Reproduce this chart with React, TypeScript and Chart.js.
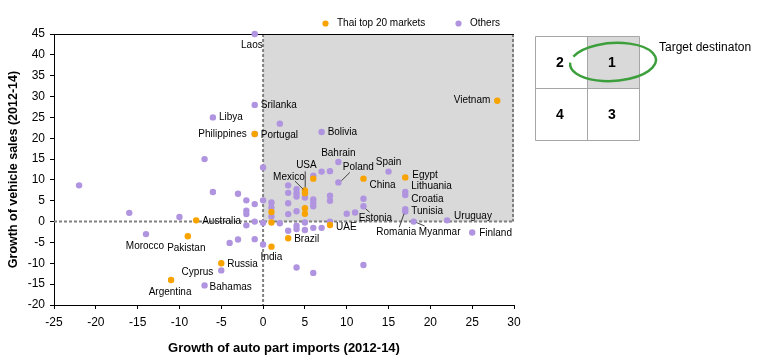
import React, { useEffect, useRef } from 'react';
import { Chart, registerables } from 'chart.js';

Chart.register(...registerables);

const FONT = "'Liberation Sans', Arial, sans-serif";
const ORANGE = '#f8a300';
const PURPLE = '#b094e0';

// Thai top 20 markets
const thaiNames = ['Vietnam', 'Philippines', 'Egypt', 'China', 'USA', 'Mexico', '', '', '', '', '', 'UAE', 'Brazil', 'India', 'Australia', 'Pakistan', 'Russia', 'Argentina'];
const thaiX = [28, -1, 17, 12, 5, 5, 6, 5, 5, 1, 1, 8, 3, 1, -8, -9, -5, -11];
const thaiY = [29, 21, 10.6, 10.3, 7.5, 6.8, 10.3, 3.2, 1.9, 2.3, -0.2, -0.8, -4, -6, 0.3, -3.5, -10, -14];

// Others
const otherNames = [
  'Laos', 'Srilanka', 'Libya', 'Portugal', '', 'Bolivia', '', '', 'Bahrain', '', '', 'Spain', '', 'Poland',
  '', '', '', '', '', '', '', '', '', '', '', '', '', '', '', '', '', '', '', '', '', '', '', '', '', '',
  '', '', '', 'Estonia', 'Lithuania', 'Croatia', 'Tunisia', 'Romania', 'Myanmar', 'Uruguay', 'Finland',
  '', '', '', '', '', 'Morocco', '', '', '', '', '', '', '', '', '', '', '', '', '', '', '', 'Cyprus', 'Bahamas',
];
const otherX = [
  -1, -1, -6, -1, 2, 7, -7, 0, 9, 7, 8, 15, 6, 9,
  3, 3, 3, 3, 3, 4, 4, 4, 4, 4, 4, 5, 5, 5, 6, 6, 6, 6, 7, 8, 8, 8, 1, 1, 1, 2,
  10, 11, 12, 12, 17, 17, 17, 17, 18, 22, 25,
  4, 6, 12, -22, -16, -14, -10, -6, -3, -2, -2, -2, -1, 0, -2, -1, 0, -4, -3, -1, 0, -5, -7,
];
const otherY = [
  45, 28, 25, 21, 23.5, 21.5, 15, 13, 14.3, 12, 12.1, 12, 11, 9.4,
  8.7, 6.9, 4.4, 1.8, -2.2, 7.8, 6.8, 6, 2.5, -1, -1.8, 5.8, -0.2, -2, 5.3, 4.5, 3.7, -1.5, -1.5, 6.2, 5, 0, 4.6, 3.4, 1.2, -0.4,
  1.9, 2.2, 5.5, 3.7, 7.1, 6.4, 3, 2.4, 0, 0.3, -2.6,
  -11, -12.3, -10.4, 8.7, 2.1, -3, 1.1, 7.1, 6.7, 5.1, 2.6, 1.8, 4.2, 5.1, -0.9, 0, -0.3, -5.1, -4.3, -4.2, -5.5, -11.7, -15.3,
];

const xTickMin = -25;
const xTickMax = 30;
const yTickMin = -20;
const yTickMax = 45;
const tickStep = 5;

const legendLabels = ['Thai top 20 markets', 'Others'];
const quadrantNumbers = ['2', '1', '4', '3'];
const targetText = 'Target destinaton';

// label placement relative to the point (pixels)
type LabelPlace = { dx: number; dy: number; align: CanvasTextAlign; line?: number[] };
const labelLayout: Record<string, LabelPlace> = {
  Laos: { dx: 8, dy: 11, align: 'right' },
  Srilanka: { dx: 6, dy: 0.5, align: 'left' },
  Libya: { dx: 6, dy: 0, align: 'left' },
  Philippines: { dx: -8, dy: 0, align: 'right' },
  Portugal: { dx: 6, dy: 1, align: 'left' },
  Vietnam: { dx: -7, dy: 0, align: 'right' },
  Bolivia: { dx: 6, dy: 0, align: 'left' },
  Bahrain: { dx: 0, dy: -9, align: 'center' },
  Spain: { dx: 0, dy: -9.5, align: 'center' },
  USA: { dx: 1.5, dy: -25.5, align: 'center', line: [0.3, -19, 0.3, -3] },
  Mexico: { dx: -16, dy: -16.2, align: 'center', line: [-10, -12.2, -1.6, -3.9] },
  Poland: { dx: 20, dy: -15, align: 'center', line: [11.5, -10, 3, -1.6] },
  Egypt: { dx: 7, dy: -2, align: 'left' },
  China: { dx: 6, dy: 7, align: 'left' },
  Lithuania: { dx: 6, dy: -5.5, align: 'left' },
  Croatia: { dx: 6, dy: 4, align: 'left' },
  Tunisia: { dx: 6, dy: 2, align: 'left' },
  Estonia: { dx: 12, dy: 12.4, align: 'center', line: [2.2, 2.6, 6.2, 6.1] },
  Uruguay: { dx: 7, dy: -4.5, align: 'left' },
  Romania: { dx: -9, dy: 21, align: 'center', line: [-6, 15.7, -1.3, 2.2] },
  Myanmar: { dx: 26, dy: 10.7, align: 'center', line: [3, 1, 11, 4.4] },
  Finland: { dx: 7, dy: 1, align: 'left' },
  UAE: { dx: 6, dy: 2, align: 'left' },
  Brazil: { dx: 6, dy: 1, align: 'left' },
  India: { dx: 0, dy: 11, align: 'center' },
  Australia: { dx: 6, dy: 1, align: 'left' },
  Morocco: { dx: -1, dy: 12, align: 'center' },
  Pakistan: { dx: -1.5, dy: 12, align: 'center' },
  Russia: { dx: 6, dy: 0.5, align: 'left' },
  Cyprus: { dx: -8, dy: 1.5, align: 'right' },
  Bahamas: { dx: 5, dy: 1.5, align: 'left' },
  Argentina: { dx: -1, dy: 12, align: 'center' },
};

const decorPlugin = {
  id: 'decor',
  beforeDatasetsDraw(chart: any) {
    const { ctx, chartArea, scales } = chart;
    const x = scales.x;
    const y = scales.y;
    const x0 = x.getPixelForValue(0);
    const x1 = x.getPixelForValue(xTickMax);
    const yT = y.getPixelForValue(yTickMax);
    const y0 = y.getPixelForValue(0);
    ctx.save();
    ctx.fillStyle = '#d9d9d9';
    ctx.fillRect(x0, yT, x1 - x0, y0 - yT);
    ctx.strokeStyle = '#808080';
    ctx.lineWidth = 2;
    ctx.setLineDash([3, 2]);
    ctx.beginPath();
    ctx.moveTo(x0, chartArea.top);
    ctx.lineTo(x0, chartArea.bottom);
    ctx.moveTo(chartArea.left, y0);
    ctx.lineTo(chartArea.right, y0);
    ctx.moveTo(x1 - 1, yT);
    ctx.lineTo(x1 - 1, y0);
    ctx.stroke();
    ctx.setLineDash([]);
    ctx.strokeStyle = '#000';
    ctx.lineWidth = 1;
    ctx.beginPath();
    ctx.moveTo(chartArea.left, Math.round(chartArea.top) + 0.5);
    ctx.lineTo(chartArea.right, Math.round(chartArea.top) + 0.5);
    ctx.stroke();
    ctx.restore();
  },
  afterDatasetsDraw(chart: any) {
    const { ctx } = chart;
    ctx.save();
    ctx.font = `10px ${FONT}`;
    ctx.fillStyle = '#000';
    ctx.textBaseline = 'middle';
    const nameSets = [thaiNames, otherNames];
    nameSets.forEach((names, di) => {
      const meta = chart.getDatasetMeta(di);
      names.forEach((name, i) => {
        if (!name) return;
        const place = labelLayout[name];
        if (!place) return;
        const el = meta.data[i];
        if (!el) return;
        const px = el.x;
        const py = el.y;
        ctx.textAlign = place.align;
        ctx.fillText(name, px + place.dx, py + place.dy);
        if (place.line) {
          ctx.strokeStyle = '#404040';
          ctx.lineWidth = 1;
          ctx.beginPath();
          ctx.moveTo(px + place.line[0], py + place.line[1]);
          ctx.lineTo(px + place.line[2], py + place.line[3]);
          ctx.stroke();
        }
      });
    });
    ctx.restore();
  },
  afterDraw(chart: any) {
    const { ctx } = chart;
    ctx.save();
    // legend
    ctx.font = `10px ${FONT}`;
    ctx.textBaseline = 'middle';
    ctx.textAlign = 'left';
    const legendItems = [
      { dot: 325.5, text: 337, color: ORANGE, label: legendLabels[0] },
      { dot: 458.5, text: 470, color: PURPLE, label: legendLabels[1] },
    ];
    legendItems.forEach((it) => {
      ctx.fillStyle = it.color;
      ctx.beginPath();
      ctx.arc(it.dot, 23.5, 3.1, 0, Math.PI * 2);
      ctx.fill();
      ctx.fillStyle = '#000';
      ctx.fillText(it.label, it.text, 23.5);
    });

    // quadrant diagram
    const L = 535, T = 36, S = 52;
    ctx.fillStyle = '#d9d9d9';
    ctx.fillRect(L + S, T, S, S);
    ctx.strokeStyle = '#a6a6a6';
    ctx.lineWidth = 1;
    ctx.beginPath();
    for (let k = 0; k <= 2; k++) {
      ctx.moveTo(L + 0.5, T + k * S + 0.5);
      ctx.lineTo(L + 2 * S + 0.5, T + k * S + 0.5);
      ctx.moveTo(L + k * S + 0.5, T + 0.5);
      ctx.lineTo(L + k * S + 0.5, T + 2 * S + 0.5);
    }
    ctx.stroke();
    ctx.fillStyle = '#000';
    ctx.font = `bold 14px ${FONT}`;
    ctx.textAlign = 'center';
    quadrantNumbers.forEach((n, k) => {
      const cx = L + (k % 2) * S + S / 2 - 1;
      const cy = T + Math.floor(k / 2) * S + S / 2 + 1.5;
      ctx.fillText(n, cx, cy);
    });
    // green ellipse
    ctx.strokeStyle = '#3c9f3c';
    ctx.lineWidth = 2.4;
    ctx.beginPath();
    ctx.ellipse(613, 62, 43, 19, -0.06, Math.PI + 0.42, Math.PI + 0.1 + Math.PI * 2);
    ctx.stroke();
    ctx.fillStyle = '#000';
    ctx.font = `12px ${FONT}`;
    ctx.textAlign = 'left';
    ctx.fillText(targetText, 659, 48);
    ctx.restore();
  },
};

export default function App() {
  const canvasRef = useRef<HTMLCanvasElement | null>(null);

  useEffect(() => {
    const canvas = canvasRef.current;
    if (!canvas) return;
    const toPoints = (xs: number[], ys: number[]) => xs.map((v, i) => ({ x: v, y: ys[i] }));
    const chart = new Chart(canvas, {
      type: 'scatter',
      data: {
        datasets: [
          {
            label: legendLabels[0],
            data: toPoints(thaiX, thaiY),
            backgroundColor: ORANGE,
            borderColor: ORANGE,
            borderWidth: 0,
            pointRadius: 3.2,
            clip: false as any,
          },
          {
            label: legendLabels[1],
            data: toPoints(otherX, otherY),
            backgroundColor: PURPLE,
            borderColor: PURPLE,
            borderWidth: 0,
            pointRadius: 3.2,
            clip: false as any,
          },
        ],
      },
      options: {
        responsive: false,
        animation: false,
        devicePixelRatio: 1,
        layout: { padding: { left: 0, top: 34, right: 249, bottom: 0 } },
        plugins: {
          legend: { display: false },
          tooltip: { enabled: false },
        },
        scales: {
          x: {
            type: 'linear',
            min: xTickMin,
            max: xTickMax,
            afterFit: (s: any) => {
              s.height = 55;
            },
            ticks: {
              stepSize: tickStep,
              color: '#000',
              padding: 6,
              font: { family: FONT, size: 12 },
            },
            grid: { drawOnChartArea: false, drawTicks: true, tickLength: 4, color: '#000' },
            border: { display: true, color: '#000', width: 1 },
            title: {
              display: true,
              text: 'Growth of auto part imports (2012-14)',
              color: '#000',
              font: { family: FONT, size: 13, weight: 'bold' },
              padding: { top: 0, bottom: 4 },
            },
          },
          y: {
            type: 'linear',
            min: yTickMin,
            max: yTickMax,
            afterFit: (s: any) => {
              s.width = 54;
            },
            ticks: {
              stepSize: tickStep,
              color: '#000',
              padding: 5,
              font: { family: FONT, size: 12 },
            },
            grid: { drawOnChartArea: false, drawTicks: true, tickLength: 4, color: '#000' },
            border: { display: true, color: '#000', width: 1 },
            title: {
              display: true,
              text: 'Growth of vehicle sales (2012-14)',
              color: '#000',
              font: { family: FONT, size: 12.5, weight: 'bold' },
              padding: { top: 6, bottom: 0 },
            },
          },
        },
      },
      plugins: [decorPlugin],
    });
    return () => chart.destroy();
  }, []);

  return (
    <div style={{ position: 'absolute', left: 0, top: 0, width: 763, height: 360, background: '#fff' }}>
      <canvas ref={canvasRef} width={763} height={360} style={{ display: 'block' }} />
    </div>
  );
}
